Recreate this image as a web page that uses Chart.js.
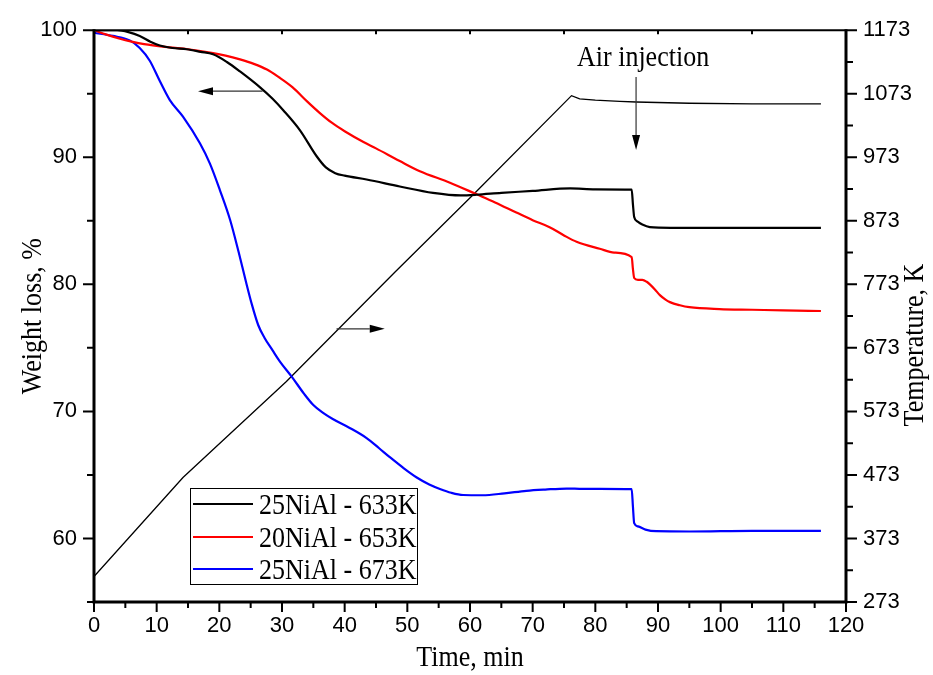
<!DOCTYPE html>
<html>
<head>
<meta charset="utf-8">
<script src="https://cdn.jsdelivr.net/npm/chart.js@4.4.0/dist/chart.umd.min.js"></script>
<style>
  html, body { margin: 0; padding: 0; background: #fff; }
  #wrap { width: 933px; height: 675px; }
</style>
</head>
<body>
<div id="wrap"><canvas id="tgaChart" width="933" height="675"></canvas></div>
<script>
// tick labels
const timeTicks = [0, 10, 20, 30, 40, 50, 60, 70, 80, 90, 100, 110, 120];
const weightTicks = [60, 70, 80, 90, 100];
const tempTicks = [273, 373, 473, 573, 673, 773, 873, 973, 1073, 1173];

const seriesLabels = ['25NiAl - 633K', '20NiAl - 653K', '25NiAl - 673K'];

// 25NiAl - 633K
const time633 = [0, 3.7, 5.5, 7.3, 9, 10.5, 12.5, 14.8, 17, 19, 21.2, 23.3, 26.5, 28.5, 30.2, 32.9, 35.5, 37, 38.5, 40, 43.5, 48.8, 54.1, 58.5, 61, 65, 70, 76, 80, 85.8, 86.0, 86.2, 86.7, 87.5, 88.7, 92, 100, 108, 116];
const weight633 = [100, 100, 99.85, 99.55, 99.1, 98.8, 98.6, 98.5, 98.3, 98.1, 97.5, 96.75, 95.5, 94.6, 93.7, 92.1, 90.1, 89.2, 88.75, 88.55, 88.25, 87.7, 87.2, 87.0, 87.05, 87.2, 87.35, 87.55, 87.48, 87.45, 86.3, 85.3, 84.95, 84.7, 84.5, 84.45, 84.45, 84.45, 84.45];

// 20NiAl - 653K
const time653 = [0, 2, 4, 6, 8, 12, 15, 19, 21, 23.3, 25.5, 27.6, 29.5, 31.7, 34, 36, 38, 40, 43, 45, 48.8, 52, 56.8, 61, 64, 67.4, 70, 72.7, 75, 77, 80.7, 83, 85.8, 86.0, 86.2, 86.8, 87.5, 88.2, 88.7, 89.5, 90.3, 91.2, 91.9, 93.5, 95, 99.8, 105, 110, 116];
const weight653 = [100, 99.65, 99.35, 99.1, 98.9, 98.65, 98.5, 98.2, 98.0, 97.7, 97.35, 96.9, 96.3, 95.5, 94.4, 93.5, 92.7, 92.05, 91.2, 90.7, 89.7, 88.9, 88.0, 87.1, 86.45, 85.65, 85.05, 84.5, 83.85, 83.35, 82.8, 82.5, 82.15, 81.2, 80.5, 80.35, 80.35, 80.2, 80.0, 79.6, 79.15, 78.8, 78.6, 78.35, 78.2, 78.05, 78.0, 77.95, 77.9];

// 25NiAl - 673K
const time673 = [0, 3, 5.7, 7.3, 8.9, 10.5, 12.1, 14.2, 16.9, 18.5, 20.1, 21.7, 23.1, 24.2, 25.2, 26.2, 27.2, 28.5, 29.7, 31.6, 33.5, 35, 36.5, 38.1, 40.8, 43.5, 45.5, 47.2, 49.5, 51.5, 53.5, 55.2, 57, 58.9, 62, 65.5, 69, 72, 75.4, 78, 80.7, 85.8, 86.0, 86.2, 86.8, 88, 89.7, 95, 105, 116];
const weight673 = [99.8, 99.55, 99.2, 98.6, 97.6, 96.0, 94.5, 93.2, 91.1, 89.5, 87.4, 85.1, 82.5, 80.3, 78.4, 76.8, 75.8, 74.8, 73.9, 72.7, 71.4, 70.5, 69.9, 69.4, 68.7, 67.9, 67.1, 66.4, 65.5, 64.8, 64.25, 63.9, 63.6, 63.42, 63.4, 63.55, 63.75, 63.85, 63.93, 63.9, 63.9, 63.88, 62.5, 61.2, 60.95, 60.7, 60.57, 60.55, 60.6, 60.6];

// furnace temperature, K
const timeTemp = [0, 14.2, 30.7, 48, 60.5, 76.2, 77.5, 80, 83.9, 86.5, 95, 105, 116];
const tempK = [313, 469, 620, 792, 914, 1070, 1065, 1063, 1061, 1060, 1058, 1057, 1057];

const pts = (xs, ys) => xs.map((t, i) => ({ x: t, y: ys[i] }));

const sansFont = { family: "'Liberation Sans', Arial, sans-serif", size: 22 };
const serif = "26px 'Liberation Serif', 'Times New Roman', serif";

// serif text is a bit taller than wide in the original figure
function tallText(ctx, text, x, y, rot) {
  ctx.save();
  ctx.translate(x, y);
  if (rot) ctx.rotate(rot);
  ctx.scale(1, 1.15);
  ctx.fillText(text, 0, 0);
  ctx.restore();
}

function arrow(ctx, x1, y1, x2, y2) {
  const ang = Math.atan2(y2 - y1, x2 - x1);
  const hl = 15, hw = 4;
  ctx.beginPath();
  ctx.moveTo(x1, y1);
  ctx.lineTo(x2 - hl * Math.cos(ang), y2 - hl * Math.sin(ang));
  ctx.stroke();
  ctx.beginPath();
  ctx.moveTo(x2, y2);
  ctx.lineTo(x2 - hl * Math.cos(ang) - hw * Math.sin(ang), y2 - hl * Math.sin(ang) + hw * Math.cos(ang));
  ctx.lineTo(x2 - hl * Math.cos(ang) + hw * Math.sin(ang), y2 - hl * Math.sin(ang) - hw * Math.cos(ang));
  ctx.closePath();
  ctx.fill();
}

const framePlugin = {
  id: 'frame',
  afterDraw(chart) {
    const { ctx, chartArea: { left, right, top, bottom }, scales: { x, y, y2 } } = chart;
    ctx.save();
    ctx.strokeStyle = '#000';
    ctx.fillStyle = '#000';

    // tick marks (major + minor, outward)
    ctx.lineWidth = 2;
    ctx.beginPath();
    for (let i = 0; i < timeTicks.length; i++) {
      const px = x.getPixelForValue(timeTicks[i]);
      ctx.moveTo(px, bottom); ctx.lineTo(px, bottom + 10);
      if (i < timeTicks.length - 1) {
        const mx = x.getPixelForValue((timeTicks[i] + timeTicks[i + 1]) / 2);
        ctx.moveTo(mx, bottom); ctx.lineTo(mx, bottom + 6);
      }
    }
    for (let i = 0; i < weightTicks.length; i++) {
      const py = y.getPixelForValue(weightTicks[i]);
      ctx.moveTo(left, py); ctx.lineTo(left - 11, py);
      const my = y.getPixelForValue(weightTicks[i] - 5);
      ctx.moveTo(left, my); ctx.lineTo(left - 7, my);
    }
    for (let i = 0; i < tempTicks.length; i++) {
      const py = y2.getPixelForValue(tempTicks[i]);
      ctx.moveTo(right, py); ctx.lineTo(right + 11, py);
      if (i < tempTicks.length - 1) {
        const my = y2.getPixelForValue(tempTicks[i] + 50);
        ctx.moveTo(right, my); ctx.lineTo(right + 7, my);
      }
    }
    // small inward ticks on the top edge
    for (let v = 0; v <= 120; v += 15) {
      const px = x.getPixelForValue(v);
      ctx.moveTo(px, top); ctx.lineTo(px, top + 4);
    }
    ctx.stroke();

    // frame
    ctx.lineWidth = 2;
    ctx.beginPath();
    ctx.moveTo(left, top); ctx.lineTo(right, top);
    ctx.stroke();
    ctx.lineWidth = 3;
    ctx.beginPath();
    ctx.moveTo(left, top - 1); ctx.lineTo(left, bottom); ctx.lineTo(right, bottom); ctx.lineTo(right, top - 1);
    ctx.stroke();

    // axis titles
    ctx.font = serif;
    ctx.textBaseline = 'alphabetic';
    ctx.textAlign = 'center';
    tallText(ctx, 'Time, min', (left + right) / 2, 666);
    tallText(ctx, 'Weight loss, %', 41, (top + bottom) / 2, -Math.PI / 2);
    tallText(ctx, 'Temperature, K', 923, 345, -Math.PI / 2);

    // annotations
    ctx.textAlign = 'left';
    tallText(ctx, 'Air injection', 577, 66);
    ctx.lineWidth = 1.2;
    ctx.strokeStyle = '#333';
    const ax = x.getPixelForValue(86.5);
    arrow(ctx, ax, 77, ax, 150);
    arrow(ctx, x.getPixelForValue(26.9), y.getPixelForValue(95.2), x.getPixelForValue(16.6), y.getPixelForValue(95.2));
    arrow(ctx, x.getPixelForValue(38.7), y2.getPixelForValue(703), x.getPixelForValue(46.4), y2.getPixelForValue(703));

    // legend
    ctx.strokeStyle = '#000';
    ctx.lineWidth = 1;
    ctx.strokeRect(190.5, 488.5, 227, 96);
    ctx.textBaseline = 'alphabetic';
    const rows = [504, 537, 569];
    chart.data.datasets.slice(0, 3).forEach((ds, i) => {
      ctx.strokeStyle = ds.borderColor;
      ctx.lineWidth = 2.2;
      ctx.beginPath();
      ctx.moveTo(193, rows[i]); ctx.lineTo(253, rows[i]);
      ctx.stroke();
      ctx.fillStyle = '#000';
      tallText(ctx, ds.label, 259, rows[i] + 10);
    });
    ctx.restore();
  }
};

const ctx = document.getElementById('tgaChart');

new Chart(ctx, {
  type: 'line',
  data: {
    datasets: [
      { label: seriesLabels[0], data: pts(time633, weight633), borderColor: '#000000', borderWidth: 2.2, yAxisID: 'y', cubicInterpolationMode: 'monotone' },
      { label: seriesLabels[1], data: pts(time653, weight653), borderColor: '#ff0000', borderWidth: 2.2, yAxisID: 'y', cubicInterpolationMode: 'monotone' },
      { label: seriesLabels[2], data: pts(time673, weight673), borderColor: '#0000ff', borderWidth: 2.2, yAxisID: 'y', cubicInterpolationMode: 'monotone' },
      { label: 'Temperature', data: pts(timeTemp, tempK), borderColor: '#000000', borderWidth: 1.3, yAxisID: 'y2', tension: 0 }
    ]
  },
  options: {
    responsive: false,
    animation: false,
    devicePixelRatio: 1,
    elements: { point: { radius: 0 } },
    layout: { padding: { top: 26, left: 0, right: 0, bottom: 0 } },
    plugins: { legend: { display: false }, tooltip: { enabled: false } },
    scales: {
      x: {
        type: 'linear', min: 0, max: 120, position: 'bottom',
        afterBuildTicks: s => { s.ticks = timeTicks.map(v => ({ value: v })); },
        afterFit: s => { s.height = 73; },
        grid: { display: false, drawTicks: false },
        border: { display: false },
        ticks: { padding: 11, color: '#000', font: sansFont, maxRotation: 0, autoSkip: false, callback: v => String(v) }
      },
      y: {
        type: 'linear', min: 55, max: 100, position: 'left',
        afterBuildTicks: s => { s.ticks = weightTicks.map(v => ({ value: v })); },
        afterFit: s => { s.width = 94; },
        grid: { display: false, drawTicks: false },
        border: { display: false },
        ticks: { padding: 17, color: '#000', font: sansFont, autoSkip: false, callback: v => String(v) }
      },
      y2: {
        type: 'linear', min: 273, max: 1173, position: 'right',
        afterBuildTicks: s => { s.ticks = tempTicks.map(v => ({ value: v })); },
        afterFit: s => { s.width = 87; },
        grid: { display: false, drawTicks: false },
        border: { display: false },
        ticks: { padding: 17, color: '#000', font: sansFont, autoSkip: false, callback: v => String(v) }
      }
    }
  },
  plugins: [framePlugin]
});
</script>
</body>
</html>
